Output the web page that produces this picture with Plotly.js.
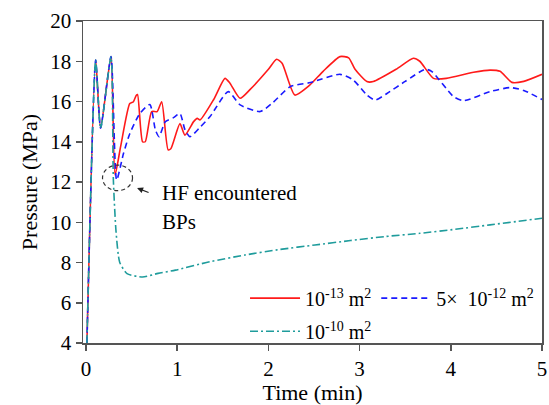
<!DOCTYPE html>
<html>
<head>
<meta charset="utf-8">
<script src="https://cdn.plot.ly/plotly-3.0.1.min.js"></script>
<style>
html,body{margin:0;padding:0;background:#fff;}
#chart{width:549px;height:405px;}
#chart text, #chart tspan { font-family: "Liberation Serif", "Times New Roman", serif !important; }
</style>
</head>
<body>
<div id="chart"></div>
<script>
// Time (min) and pressure (MPa) for each permeability case
var timeA = [0.01, 0.106, 0.16, 0.274, 0.318, 0.38, 0.48, 0.52, 0.55, 0.565, 0.62, 0.65, 0.72, 0.78, 0.83, 0.90, 0.93, 1.03, 1.085, 1.18, 1.22, 1.25, 1.4, 1.524, 1.58, 1.69, 1.8, 2.0, 2.09, 2.15, 2.29, 2.45, 2.6, 2.785, 2.88, 2.95, 3.08, 3.15, 3.4, 3.59, 3.66, 3.81, 3.95, 4.25, 4.43, 4.54, 4.67, 4.8, 5.0];
var presA = [4, 18.06, 14.68, 18.23, 12.35, 13.77, 15.9, 15.99, 16.3, 16.35, 14.0, 14.0, 15.5, 15.5, 15.99, 13.6, 13.65, 14.9, 14.33, 15.0, 15.16, 15.08, 16.1, 17.15, 16.9, 16.16, 16.6, 17.6, 18.1, 17.9, 16.32, 16.8, 17.5, 18.23, 18.17, 17.6, 16.99, 16.99, 17.6, 18.15, 18.0, 17.15, 17.15, 17.45, 17.56, 17.5, 16.95, 17.0, 17.35];

var timeB = [0.01, 0.106, 0.16, 0.274, 0.336, 0.41, 0.48, 0.59, 0.70, 0.76, 0.80, 0.87, 0.96, 1.03, 1.085, 1.14, 1.25, 1.36, 1.56, 1.69, 1.91, 2.05, 2.24, 2.46, 2.785, 2.93, 3.08, 3.17, 3.3, 3.5, 3.72, 3.79, 4.03, 4.14, 4.43, 4.65, 4.8, 5.0];
var presB = [4, 18.06, 14.68, 18.23, 12.1, 13.4, 14.4, 15.4, 15.85, 14.6, 14.25, 15.0, 15.2, 15.4, 14.6, 14.25, 14.72, 15.25, 16.49, 15.83, 15.5, 15.95, 16.74, 16.94, 17.35, 17.07, 16.32, 16.07, 16.4, 17.0, 17.6, 17.5, 16.24, 16.04, 16.49, 16.69, 16.55, 16.1];

var timeC = [0.01, 0.106, 0.16, 0.274, 0.30, 0.33, 0.37, 0.45, 0.62, 0.79, 0.98, 1.36, 1.74, 2.13, 2.51, 2.9, 3.28, 3.66, 4.05, 4.43, 5.0];
var presC = [4, 18.06, 14.68, 18.23, 12.1, 9.5, 8.0, 7.45, 7.28, 7.46, 7.62, 8.04, 8.37, 8.65, 8.87, 9.09, 9.29, 9.45, 9.65, 9.87, 10.2];

var seriesNames = ['10<sup>-13</sup> m<sup>2</sup>', '5\u00d7  10<sup>-12</sup> m<sup>2</sup>', '10<sup>-10</sup> m<sup>2</sup>'];
var xTicks = [0, 1, 2, 3, 4, 5];
var yTicks = [4, 6, 8, 10, 12, 14, 16, 18, 20];

var FONT = '"Liberation Serif", "Times New Roman", serif';

var traces = [
  {x: timeA, y: presA, name: seriesNames[0], mode: 'lines', legend: 'legend',
   line: {color: '#ff1a1a', width: 1.6, shape: 'spline', smoothing: 0.6}},
  {x: timeB, y: presB, name: seriesNames[1], mode: 'lines', legend: 'legend',
   line: {color: '#1a1aff', width: 1.6, dash: '6px,4px', shape: 'spline', smoothing: 0.6}},
  {x: timeC, y: presC, name: seriesNames[2], mode: 'lines', legend: 'legend2',
   line: {color: '#1f9c9c', width: 1.6, dash: '8px,3px,2px,3px', shape: 'spline', smoothing: 0.6}}
];

var legendStyle = function (yTop) {
  return {
    orientation: 'h', x: 0.353, xanchor: 'left', y: yTop, yanchor: 'top',
    bgcolor: 'rgba(0,0,0,0)', font: {family: FONT, size: 20, color: '#000'},
    itemwidth: 50, traceorder: 'normal'
  };
};

var layout = {
  width: 549, height: 405,
  margin: {l: 83, r: 7, t: 21, b: 62},
  paper_bgcolor: '#fff', plot_bgcolor: '#fff',
  font: {family: FONT, size: 21, color: '#000'},
  showlegend: true,
  legend: legendStyle(0.2),
  legend2: legendStyle(0.097),
  xaxis: {
    range: [-0.033, 5.0], tickvals: xTicks, ticktext: xTicks.map(String),
    showgrid: false, zeroline: false, showline: true, mirror: true,
    linecolor: '#555', linewidth: 1.5, ticks: 'outside', ticklen: 6, tickwidth: 1.5, tickcolor: '#555',
    title: {text: 'Time (min)', font: {family: FONT, size: 22}, standoff: 6},
    tickfont: {family: FONT, size: 21, color: '#000'}
  },
  yaxis: {
    range: [4, 20], tickvals: yTicks, ticktext: yTicks.map(String),
    showgrid: false, zeroline: false, showline: true, mirror: true,
    linecolor: '#555', linewidth: 1.5, ticks: 'outside', ticklen: 6, tickwidth: 1.5, tickcolor: '#555',
    title: {text: 'Pressure (MPa)', font: {family: FONT, size: 22}, standoff: 6},
    tickfont: {family: FONT, size: 21, color: '#000'}
  },
  shapes: [
    {type: 'circle', xref: 'x', yref: 'y', x0: 0.181, x1: 0.51, y0: 11.57, y1: 12.84,
     line: {color: '#333', width: 1.2, dash: '4px,3px'}}
  ],
  annotations: [
    {x: 0.56, y: 11.7, xref: 'x', yref: 'y', text: '', showarrow: true,
     ax: 13, ay: 5, arrowhead: 2, arrowsize: 1, arrowwidth: 1.2, arrowcolor: '#222'},
    {x: 0.81, y: 11.45, xref: 'x', yref: 'y', text: 'HF encountered', showarrow: false,
     xanchor: 'left', yanchor: 'middle', font: {family: FONT, size: 21, color: '#000'}},
    {x: 0.81, y: 10.01, xref: 'x', yref: 'y', text: 'BPs', showarrow: false,
     xanchor: 'left', yanchor: 'middle', font: {family: FONT, size: 21, color: '#000'}}
  ]
};

Plotly.newPlot('chart', traces, layout, {staticPlot: true, displayModeBar: false});
</script>
</body>
</html>
